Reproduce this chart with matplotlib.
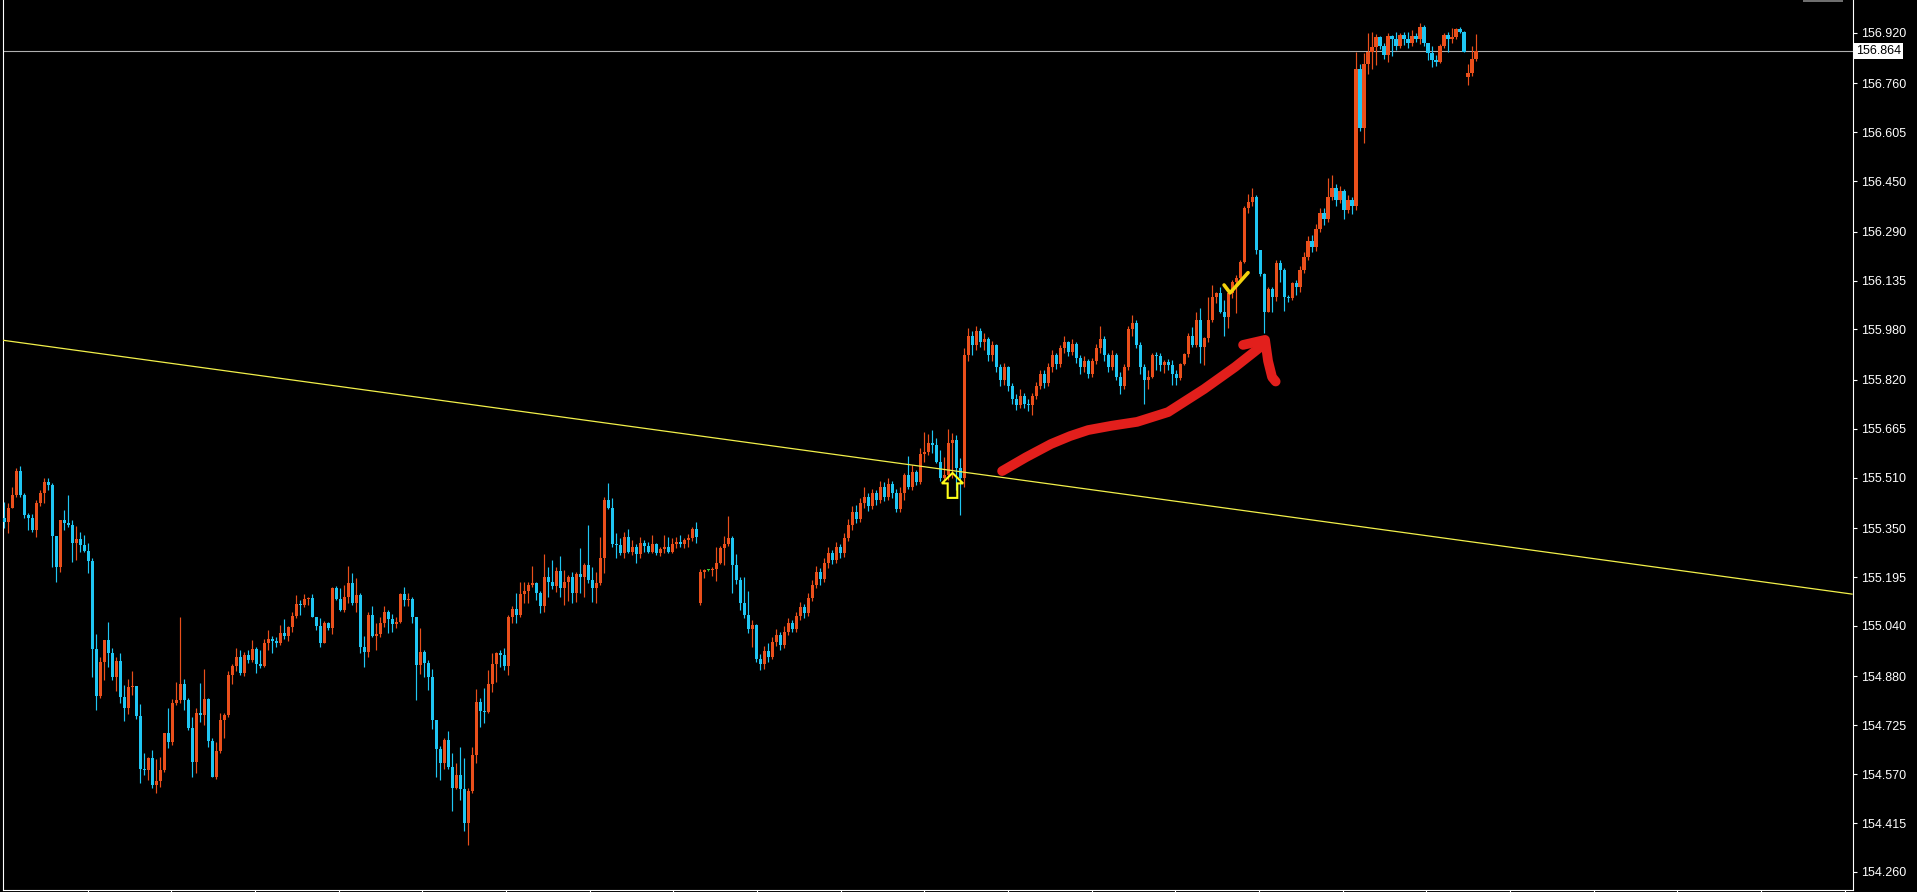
import numpy as np
import matplotlib
matplotlib.use('Agg')
import matplotlib.pyplot as plt
import matplotlib.transforms as mtransforms
from matplotlib.patches import Polygon, Rectangle

# Свечи, open = close предыдущей свечи
first_open = 155.381
gap_opens = {174: 155.112, 366: 156.781}

closes = [
    155.371, 155.413, 155.455, 155.532, 155.455, 155.392, 155.381, 155.344, 155.431, 155.463,
    155.497, 155.487, 155.325, 155.226, 155.376, 155.367, 155.360, 155.302, 155.315, 155.297,
    155.279, 155.247, 154.966, 154.818, 154.927, 154.995, 154.955, 154.877, 154.930, 154.814,
    154.779, 154.845, 154.849, 154.754, 154.588, 154.583, 154.620, 154.536, 154.549, 154.583,
    154.699, 154.673, 154.795, 154.805, 154.855, 154.805, 154.715, 154.610, 154.763, 154.759,
    154.807, 154.676, 154.562, 154.644, 154.742, 154.758, 154.884, 154.913, 154.940, 154.892,
    154.947, 154.932, 154.966, 154.919, 154.913, 154.985, 154.998, 154.993, 154.985, 155.017,
    155.008, 155.036, 155.072, 155.110, 155.106, 155.124, 155.128, 155.069, 155.040, 154.985,
    155.050, 155.032, 155.159, 155.124, 155.090, 155.133, 155.175, 155.114, 155.138, 154.972,
    154.958, 155.075, 155.008, 155.016, 155.050, 155.085, 155.061, 155.046, 155.053, 155.141,
    155.122, 155.124, 155.067, 154.916, 154.958, 154.923, 154.879, 154.742, 154.649, 154.604,
    154.678, 154.594, 154.525, 154.567, 154.522, 154.416, 154.518, 154.631, 154.800, 154.771,
    154.768, 154.856, 154.919, 154.955, 154.948, 154.913, 155.069, 155.093, 155.075, 155.141,
    155.152, 155.170, 155.175, 155.143, 155.103, 155.194, 155.180, 155.167, 155.215, 155.159,
    155.180, 155.196, 155.143, 155.204, 155.194, 155.233, 155.186, 155.159, 155.175, 155.257,
    155.439, 155.413, 155.300, 155.297, 155.272, 155.323, 155.275, 155.289, 155.268, 155.304,
    155.293, 155.275, 155.300, 155.272, 155.283, 155.291, 155.275, 155.300, 155.307, 155.300,
    155.312, 155.318, 155.346, 155.321, 155.212, 155.217, 155.217, 155.221, 155.241, 155.286,
    155.300, 155.318, 155.233, 155.186, 155.114, 155.075, 155.029, 155.043, 154.934, 154.920,
    154.960, 154.940, 154.990, 155.010, 154.980, 155.020, 155.050, 155.030, 155.070, 155.100,
    155.080, 155.130, 155.170, 155.210, 155.190, 155.240, 155.270, 155.250, 155.290, 155.270,
    155.320, 155.360, 155.400, 155.380, 155.430, 155.450, 155.420, 155.460, 155.440, 155.480,
    155.450, 155.490, 155.460, 155.410, 155.461, 155.519, 155.479, 155.529, 155.497, 155.585,
    155.593, 155.621, 155.614, 155.561, 155.508, 155.519, 155.619, 155.630, 155.540, 155.508,
    155.900, 155.960, 155.930, 155.975, 155.940, 155.950, 155.900, 155.930, 155.860, 155.820,
    155.860, 155.800, 155.760, 155.740, 155.770, 155.745, 155.740, 155.770, 155.800, 155.840,
    155.810, 155.860, 155.900, 155.870, 155.920, 155.940, 155.910, 155.935, 155.890, 155.860,
    155.880, 155.840, 155.880, 155.920, 155.950, 155.900, 155.860, 155.900, 155.830, 155.800,
    155.860, 155.980, 156.000, 155.930, 155.860, 155.820, 155.830, 155.899, 155.896, 155.867,
    155.878, 155.867, 155.839, 155.825, 155.870, 155.902, 155.959, 155.931, 156.010, 155.923,
    155.952, 156.010, 156.084, 156.095, 156.036, 156.021, 156.095, 156.132, 156.142, 156.195,
    156.365, 156.385, 156.400, 156.232, 156.156, 156.036, 156.107, 156.084, 156.190, 156.169,
    156.084, 156.079, 156.126, 156.116, 156.170, 156.210, 156.260, 156.240, 156.300, 156.350,
    156.330, 156.400, 156.430, 156.390, 156.420, 156.360, 156.390, 156.370, 156.805, 156.618,
    156.822, 156.861, 156.877, 156.906, 156.879, 156.850, 156.910, 156.900, 156.879, 156.914,
    156.900, 156.887, 156.910, 156.900, 156.940, 156.887, 156.855, 156.834, 156.829, 156.879,
    156.914, 156.900, 156.908, 156.932, 156.924, 156.861, 156.794, 156.836, 156.864,
]

highs = [
    155.434, 155.429, 155.482, 155.540, 155.547, 155.460, 155.399, 155.395, 155.439, 155.471,
    155.508, 155.508, 155.494, 155.325, 155.376, 155.408, 155.455, 155.376, 155.357, 155.339,
    155.328, 155.302, 155.254, 155.014, 154.942, 154.997, 155.054, 154.969, 154.940, 154.953,
    154.853, 154.871, 154.898, 154.847, 154.794, 154.636, 154.625, 154.647, 154.617, 154.625,
    154.702, 154.779, 154.807, 154.863, 155.067, 154.871, 154.810, 154.752, 154.779, 154.858,
    154.902, 154.810, 154.684, 154.673, 154.763, 154.765, 154.898, 154.919, 154.969, 154.964,
    154.958, 154.964, 154.995, 154.972, 154.964, 154.998, 155.027, 155.008, 155.004, 155.043,
    155.061, 155.040, 155.085, 155.138, 155.122, 155.141, 155.133, 155.141, 155.069, 155.064,
    155.057, 155.054, 155.162, 155.167, 155.159, 155.170, 155.230, 155.209, 155.191, 155.143,
    155.008, 155.085, 155.103, 155.050, 155.069, 155.103, 155.090, 155.078, 155.069, 155.145,
    155.164, 155.143, 155.131, 155.069, 155.032, 154.964, 154.932, 154.902, 154.742, 154.659,
    154.684, 154.708, 154.638, 154.604, 154.657, 154.620, 154.525, 154.657, 154.839, 154.810,
    154.842, 154.900, 154.953, 154.958, 154.964, 154.969, 155.075, 155.103, 155.145, 155.180,
    155.180, 155.180, 155.230, 155.180, 155.152, 155.268, 155.228, 155.249, 155.228, 155.262,
    155.217, 155.202, 155.212, 155.212, 155.286, 155.238, 155.360, 155.228, 155.212, 155.323,
    155.448, 155.494, 155.445, 155.336, 155.318, 155.339, 155.346, 155.314, 155.300, 155.323,
    155.312, 155.307, 155.328, 155.304, 155.291, 155.328, 155.323, 155.318, 155.323, 155.328,
    155.318, 155.331, 155.353, 155.371, 155.219, 155.219, 155.221, 155.226, 155.289, 155.293,
    155.325, 155.389, 155.325, 155.268, 155.194, 155.196, 155.152, 155.059, 155.046, 154.950,
    154.975, 154.985, 155.005, 155.030, 155.020, 155.040, 155.065, 155.060, 155.085, 155.115,
    155.110, 155.145, 155.185, 155.230, 155.225, 155.255, 155.290, 155.280, 155.305, 155.300,
    155.335, 155.380, 155.420, 155.425, 155.445, 155.480, 155.460, 155.475, 155.470, 155.500,
    155.495, 155.510, 155.500, 155.475, 155.480, 155.525, 155.580, 155.550, 155.535, 155.605,
    155.656, 155.648, 155.661, 155.635, 155.598, 155.576, 155.663, 155.651, 155.645, 155.571,
    155.920, 155.985, 155.975, 155.990, 155.985, 155.970, 155.955, 155.945, 155.935, 155.870,
    155.875, 155.865, 155.810, 155.775, 155.790, 155.780, 155.760, 155.780, 155.815, 155.850,
    155.850, 155.875, 155.915, 155.905, 155.930, 155.960, 155.945, 155.950, 155.940, 155.900,
    155.895, 155.885, 155.890, 155.935, 155.990, 155.960, 155.905, 155.915, 155.905, 155.845,
    155.870, 155.990, 156.025, 156.010, 155.940, 155.870, 155.850, 155.905, 155.910, 155.905,
    155.883, 155.885, 155.883, 155.851, 155.875, 155.906, 155.968, 155.987, 156.036, 156.047,
    155.955, 156.084, 156.121, 156.100, 156.116, 156.074, 156.100, 156.137, 156.152, 156.200,
    156.370, 156.410, 156.430, 156.405, 156.232, 156.160, 156.116, 156.115, 156.200, 156.200,
    156.175, 156.090, 156.131, 156.137, 156.180, 156.225, 156.275, 156.280, 156.315, 156.365,
    156.365, 156.460, 156.470, 156.440, 156.435, 156.425, 156.405, 156.400, 156.861, 156.822,
    156.856, 156.919, 156.924, 156.917, 156.910, 156.889, 156.919, 156.914, 156.924, 156.921,
    156.924, 156.924, 156.929, 156.921, 156.953, 156.945, 156.889, 156.879, 156.850, 156.885,
    156.921, 156.924, 156.935, 156.935, 156.938, 156.927, 156.822, 156.879, 156.917,
]

lows = [
    155.349, 155.336, 155.413, 155.448, 155.450, 155.381, 155.344, 155.339, 155.323, 155.420,
    155.429, 155.471, 155.228, 155.180, 155.212, 155.344, 155.355, 155.244, 155.249, 155.275,
    155.275, 155.207, 154.877, 154.773, 154.810, 154.869, 154.911, 154.869, 154.835, 154.795,
    154.740, 154.761, 154.821, 154.744, 154.541, 154.567, 154.551, 154.525, 154.509, 154.530,
    154.578, 154.652, 154.662, 154.789, 154.795, 154.773, 154.710, 154.562, 154.575, 154.736,
    154.726, 154.657, 154.560, 154.554, 154.636, 154.684, 154.752, 154.856, 154.898, 154.884,
    154.881, 154.921, 154.927, 154.892, 154.906, 154.911, 154.964, 154.953, 154.974, 154.980,
    154.998, 154.993, 155.022, 155.064, 155.075, 155.101, 155.106, 155.069, 155.028, 154.972,
    154.985, 155.027, 155.014, 155.122, 155.088, 155.085, 155.112, 155.106, 155.085, 154.953,
    154.911, 154.943, 155.004, 154.964, 155.006, 155.036, 155.019, 155.022, 155.032, 155.048,
    155.103, 155.103, 155.050, 154.805, 154.888, 154.879, 154.837, 154.712, 154.560, 154.551,
    154.585, 154.588, 154.454, 154.522, 154.488, 154.391, 154.345, 154.511, 154.604, 154.721,
    154.731, 154.765, 154.832, 154.863, 154.911, 154.900, 154.884, 155.048, 155.050, 155.067,
    155.112, 155.112, 155.164, 155.122, 155.080, 155.085, 155.131, 155.156, 155.149, 155.133,
    155.106, 155.120, 155.112, 155.117, 155.143, 155.133, 155.175, 155.117, 155.114, 155.170,
    155.207, 155.410, 155.289, 155.254, 155.265, 155.257, 155.270, 155.265, 155.238, 155.257,
    155.275, 155.270, 155.270, 155.265, 155.262, 155.272, 155.272, 155.272, 155.286, 155.289,
    155.286, 155.291, 155.310, 155.304, 155.106, 155.191, 155.215, 155.198, 155.183, 155.236,
    155.233, 155.293, 155.145, 155.173, 155.090, 155.064, 155.017, 154.972, 154.927, 154.900,
    154.905, 154.925, 154.935, 154.975, 154.965, 154.970, 155.010, 155.020, 155.020, 155.060,
    155.065, 155.070, 155.120, 155.160, 155.170, 155.180, 155.225, 155.235, 155.240, 155.255,
    155.260, 155.310, 155.345, 155.365, 155.370, 155.415, 155.405, 155.410, 155.425, 155.430,
    155.435, 155.440, 155.445, 155.400, 155.400, 155.439, 155.475, 155.470, 155.488, 155.490,
    155.560, 155.582, 155.589, 155.558, 155.498, 155.494, 155.503, 155.510, 155.470, 155.392,
    155.480, 155.880, 155.900, 155.915, 155.925, 155.915, 155.880, 155.880, 155.845, 155.800,
    155.805, 155.785, 155.745, 155.725, 155.730, 155.730, 155.720, 155.709, 155.760, 155.790,
    155.795, 155.800, 155.845, 155.855, 155.860, 155.905, 155.895, 155.900, 155.875, 155.840,
    155.845, 155.825, 155.830, 155.870, 155.905, 155.880, 155.845, 155.850, 155.820, 155.776,
    155.790, 155.850, 155.960, 155.920, 155.840, 155.745, 155.790, 155.825, 155.850, 155.849,
    155.841, 155.851, 155.804, 155.804, 155.820, 155.867, 155.894, 155.925, 155.925, 155.873,
    155.867, 155.941, 156.005, 156.065, 156.033, 155.959, 155.984, 156.079, 156.031, 156.132,
    156.190, 156.350, 156.370, 156.220, 156.150, 155.968, 156.036, 156.036, 156.070, 156.130,
    156.040, 156.068, 156.075, 156.090, 156.100, 156.160, 156.200, 156.225, 156.230, 156.290,
    156.310, 156.320, 156.390, 156.370, 156.380, 156.330, 156.350, 156.345, 156.360, 156.610,
    156.570, 156.790, 156.805, 156.818, 156.868, 156.836, 156.829, 156.847, 156.866, 156.871,
    156.882, 156.871, 156.879, 156.892, 156.885, 156.879, 156.834, 156.811, 156.815, 156.824,
    156.871, 156.861, 156.889, 156.900, 156.919, 156.861, 156.755, 156.784, 156.832,
]

# шкала цен
price_ticks = [156.920, 156.760, 156.605, 156.450, 156.290, 156.135, 155.980, 155.820, 155.665,
               155.510, 155.350, 155.195, 155.040, 154.880, 154.725, 154.570, 154.415, 154.260]
bid_price = 156.864

# разметка поверх графика: (номер свечи, цена)
trend_x = [-1, 462]
trend_y = [155.947, 155.141]
red_path_x = [249.5, 255.5, 261.75, 266.5, 271, 277, 283.25, 291, 300, 307.75, 313.75]
red_path_y = [155.531, 155.575, 155.617, 155.642, 155.661, 155.675, 155.687, 155.718, 155.791, 155.861, 155.921]
red_head_x = [309.75, 315.25, 316.0, 317.0, 317.9]
red_head_y = [155.931, 155.947, 155.880, 155.829, 155.815]
check_x = [305.0, 306.5, 311.0]
check_y = [156.121, 156.096, 156.160]
up_arrow_x = [237.1, 239.75, 238.3, 238.3, 235.9, 235.9, 234.45]
up_arrow_y = [155.525, 155.492, 155.492, 155.446, 155.446, 155.492, 155.492]

BULL = '#ea4f1b'
BEAR = '#1fc6f3'
DOJI = '#32cd32'

closes = np.array(closes)
highs = np.array(highs)
lows = np.array(lows)
assert len(closes) == len(highs) == len(lows) == 369
opens = np.concatenate([[first_open], closes[:-1]])
for k, v in gap_opens.items():
    opens[k] = v
highs = np.maximum(highs, np.maximum(opens, closes))
lows = np.minimum(lows, np.minimum(opens, closes))
x = np.arange(len(closes))

colors = [BULL if c > o else (BEAR if c < o else DOJI) for o, c in zip(opens, closes)]

fig = plt.figure(figsize=(19.17, 8.92), dpi=100, facecolor='black')
ax = fig.add_axes([3 / 1917, 2 / 892, 1850 / 1917, 890 / 892])
ax.set_facecolor('black')

# свечи
ax.vlines(x, lows, highs, colors=colors, linewidth=0.85, zorder=2)
body = np.maximum(np.abs(closes - opens), 0.0025)
ax.bar(x, body, bottom=np.minimum(opens, closes), width=0.78, color=colors, linewidth=0, zorder=3)

# трендовая линия и линия bid
ax.plot(trend_x, trend_y, color='#f2f04a', linewidth=0.9, zorder=4)
ax.axhline(bid_price, color='#b0b0b0', linewidth=0.8, zorder=1)

# красная стрелка от руки
ax.plot(red_path_x, red_path_y, color='#e21f1c', linewidth=7, solid_capstyle='round',
        solid_joinstyle='round', zorder=6)
ax.plot(red_head_x, red_head_y, color='#e21f1c', linewidth=7, solid_capstyle='round',
        solid_joinstyle='round', zorder=6)

# жёлтая галочка и стрелка вверх
ax.plot(check_x, check_y, color='#f4d20c', linewidth=2.6, solid_capstyle='round', zorder=6)
ax.add_patch(Polygon(list(zip(up_arrow_x, up_arrow_y)), closed=True, fill=False,
                     edgecolor='#ffff1a', linewidth=1.5, zorder=6))

ax.set_xlim(-0.3, 462.25)
ax.set_ylim(157.0246 - 890 / 315.4, 157.0246)

# оси
for s in ['left', 'bottom', 'right']:
    ax.spines[s].set_color('white')
    ax.spines[s].set_linewidth(0.8)
ax.spines['top'].set_visible(False)

ax.yaxis.tick_right()
ax.set_yticks(price_ticks)
ax.set_yticklabels(['%.3f' % v for v in price_ticks])
ax.tick_params(axis='y', colors='white', length=3, width=0.8, pad=3, labelsize=9)
for lab in ax.get_yticklabels():
    lab.set_family('Liberation Sans')
ax.set_xticks(np.arange(20.83, 462, 20.92))
ax.set_xticklabels([])
ax.tick_params(axis='x', colors='white', length=3, width=0.8)

# метка текущей цены
trans = mtransforms.blended_transform_factory(ax.transAxes, ax.transData)
ax.text(1.0015, bid_price, '%.3f' % bid_price, transform=trans, ha='left', va='center',
        fontsize=9, family='Liberation Sans', color='black',
        bbox=dict(facecolor='white', edgecolor='none', pad=1.5), zorder=10, clip_on=False)

# серая метка сдвига графика сверху
ax.add_patch(Rectangle((1800 / 1850, 1 - 2 / 890), 40 / 1850, 2 / 890, transform=ax.transAxes,
                       facecolor='#6e6e6e', edgecolor='none', clip_on=False, zorder=10))

fig.savefig('out.png', dpi=100, facecolor='black')
